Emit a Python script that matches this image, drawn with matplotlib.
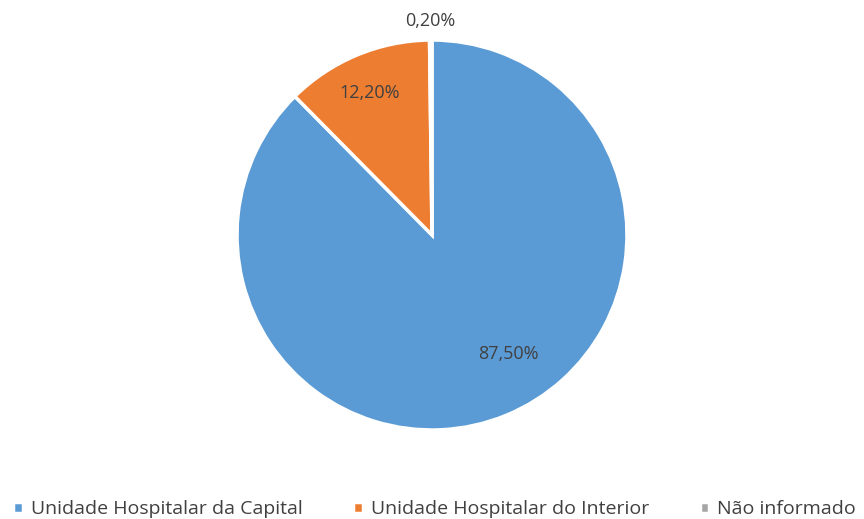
import matplotlib.pyplot as plt

categorias = ["Unidade Hospitalar da Capital", "Unidade Hospitalar do Interior", "Não informado"]
valores = [87.5, 12.2, 0.2]
rotulos = ["87,50%", "12,20%", "0,20%"]
cores = ["#5B9BD5", "#ED7D31", "#A5A5A5"]
# posicao dos rotulos (em unidades do raio)
pos_rotulos = [(0.39, -0.61), (-0.32, 0.73), (-0.01, 1.10)]

plt.rcParams['font.family'] = ['Open Sans', 'DejaVu Sans']

fig = plt.figure(figsize=(8.64, 5.19), dpi=100)
ax = fig.add_axes([0.2743, 0.1715, 0.4514, 0.7514])
wedges, _ = ax.pie(valores, colors=cores, startangle=90, counterclock=False,
                   radius=1, wedgeprops=dict(edgecolor="white", linewidth=2.5))
ax.set_xlim(-1, 1)
ax.set_ylim(-1, 1)
ax.set_aspect("equal")

for r, (x, y) in zip(rotulos, pos_rotulos):
    ax.text(x, y, r, ha="center", va="center", fontsize=13, color="#404040", clip_on=False)

fig.legend(wedges, categorias, loc="lower center", bbox_to_anchor=(0.503, -0.032), ncol=3,
           frameon=False, fontsize=14, handlelength=0.5, handleheight=0.5,
           handletextpad=0.4, columnspacing=2.6, labelcolor="#404040")

fig.savefig("out.png", dpi=100)
